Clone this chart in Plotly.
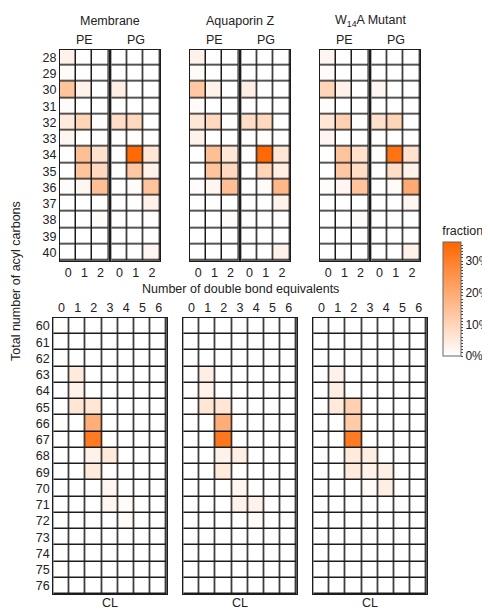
import plotly.graph_objects as go

# page body has an 8px margin, so the figure is drawn 8px in from the corner
OFF = 8
W, H = 490 - OFF, 611 - OFF

# ---------------- data (fraction, %) ----------------
pe_pg_carbons = list(range(28, 41))
pe_pg_db = [0, 1, 2]
cl_carbons = list(range(60, 77))
cl_db = [0, 1, 2, 3, 4, 5, 6]

group_names = ["Membrane", "Aquaporin Z", "W<sub>14</sub>A Mutant"]
class_names = ["PE", "PG"]

# rows: 28..40, cols: 0,1,2 double bonds
mem_pe = [[3, 0, 0], [1, 0, 0], [14, 3, 0], [1, 0, 0], [5, 10, 0.5], [2, 0, 0],
          [0, 15, 7], [0, 14, 9], [0.5, 2, 15], [0, 0, 0], [0, 0, 1], [0, 0, 0], [0, 0, 0]]
mem_pg = [[0, 0, 0], [0, 0, 0], [4, 0, 0], [0, 0, 0], [8, 9, 0], [0, 0.3, 0],
          [0.5, 35, 6], [0, 13, 3], [0, 1, 14], [0, 0, 3], [0, 0, 0], [0, 0, 0], [0, 0, 2]]
aqpz_pe = [[3, 0, 0], [1, 0, 0], [13, 3, 0], [1, 0, 0], [6, 9, 0.5], [3, 0, 0],
           [0, 15, 6], [0, 14, 9], [0.5, 2, 15], [0, 0, 0], [0, 0, 1], [0, 0, 0], [0, 0, 0]]
aqpz_pg = [[0, 0, 0], [0, 0, 0], [4, 0, 0], [0, 0, 0], [8, 9, 0], [0, 0.3, 0],
           [0.5, 35, 6], [0, 10, 4], [0, 1, 17], [0, 0, 3], [0, 0, 0], [0, 0, 0], [0, 0, 3]]
w14a_pe = [[2, 0, 0], [1, 0, 0], [10, 3, 0], [0.5, 0, 0], [6, 11, 0.5], [2, 0, 0],
           [0, 14, 7], [0, 13, 8], [0.5, 2, 14], [0, 0, 0], [0, 0, 1], [0, 0, 0], [0, 0, 0]]
w14a_pg = [[0, 0, 0], [0, 0, 0], [2, 0, 0], [0, 0, 0], [7, 10, 0], [0, 0, 0],
           [0.5, 33, 7], [0, 8, 3], [0, 1, 20], [0, 0, 2], [0, 0, 0], [0, 0, 0], [0, 0, 3]]

# rows: 60..76, cols: 0..6 double bonds
mem_cl = [[0]*7, [0]*7, [0]*7,
          [0, 5, 0, 0, 0, 0, 0], [0, 3, 0, 0, 0, 0, 0], [0, 6, 6, 0, 0, 0, 0],
          [0, 0, 19, 0, 0, 0, 0], [0, 0, 31, 0, 0, 0, 0], [0, 0, 3, 5, 0, 0, 0],
          [0, 0, 5, 0, 0, 0, 0], [0, 0, 0, 2, 0, 0, 0], [0, 0, 0, 2, 1, 0, 0],
          [0, 0, 0, 0, 1, 0, 0], [0]*7, [0]*7, [0]*7, [0]*7]
aqpz_cl = [[0]*7, [0]*7, [0]*7,
           [0, 4, 0, 0, 0, 0, 0], [0, 3, 0, 0, 0, 0, 0], [0, 6, 6, 0, 0, 0, 0],
           [0, 0, 19, 0, 0, 0, 0], [0, 0, 32, 0, 0, 0, 0], [0, 0, 3, 4, 0, 0, 0],
           [0, 0, 5, 0, 0, 0, 0], [0, 0, 0, 2, 0, 0, 0], [0, 0, 0, 3, 3, 0, 0],
           [0, 0, 0, 0, 1, 0, 0], [0]*7, [0]*7, [0]*7, [0]*7]
w14a_cl = [[0]*7, [0]*7, [0]*7,
           [0, 3, 0, 0, 0, 0, 0], [0, 4, 0, 0, 0, 0, 0], [0, 5, 11, 0, 0, 0, 0],
           [0, 0, 12, 0, 0, 0, 0], [0, 0, 31, 0, 0, 0, 0], [0, 0, 5, 4, 0, 0, 0],
           [0, 0, 5, 3, 4, 0, 0], [0, 0, 0, 1, 4, 0, 0], [0]*7,
           [0]*7, [0]*7, [0]*7, [0]*7, [0]*7]

colorbar_ticks = [0, 10, 20, 30]

# ---------------- layout helpers ----------------
FONT = "Liberation Sans, Arial, sans-serif"
FS = 12.5
GRID = "#1c1c1c"


def px(x):
    return (x - OFF) / W


def py(y):
    return 1 - (y - OFF) / H


def xd(a, b):
    return [px(a), px(b)]


def yd(top, bottom):
    return [py(bottom), py(top)]


top_y = yd(49.5, 260.7)
cl_y = yd(318, 594)
group_x0 = [60, 190, 320]
cl_x0 = [53.3, 183.3, 313.3]
pe_w = 48.7
pg_off = 51.3

top_data = [[mem_pe, mem_pg], [aqpz_pe, aqpz_pg], [w14a_pe, w14a_pg]]
cl_data = [mem_cl, aqpz_cl, w14a_cl]

fig = go.Figure()
layout = {}
annotations = []
idx = 0


def note(text, x, y, **kw):
    d = dict(text=text, x=px(x), y=py(y), xref="paper", yref="paper",
             showarrow=False, xanchor="center", yanchor="middle",
             font=dict(size=FS, color="#222"))
    d.update(kw)
    annotations.append(d)


def add_panel(z, xs, ys, xdom, ydom, show_y, xside):
    global idx
    idx += 1
    sfx = "" if idx == 1 else str(idx)
    fig.add_trace(go.Heatmap(
        z=z, x=xs, y=ys, coloraxis="coloraxis", xgap=1.5, ygap=1.5,
        xaxis="x" + sfx, yaxis="y" + sfx, hoverinfo="skip"))
    layout["xaxis" + sfx] = dict(
        domain=xdom, anchor="y" + sfx, range=[-0.5, len(xs) - 0.5],
        tickvals=xs, ticktext=[str(v) for v in xs], side=xside,
        showgrid=False, zeroline=False, showline=True, mirror=True,
        linecolor=GRID, linewidth=1.3, ticks="", fixedrange=True,
        tickfont=dict(size=FS, color="#222"))
    layout["yaxis" + sfx] = dict(
        domain=ydom, anchor="x" + sfx, range=[ys[-1] + 0.5, ys[0] - 0.5],
        tickvals=ys, ticktext=[str(v) for v in ys], showticklabels=show_y,
        showgrid=False, zeroline=False, showline=True, mirror=True,
        linecolor=GRID, linewidth=1.3, ticks="", fixedrange=True,
        tickfont=dict(size=FS, color="#222"))


for g in range(3):
    for c in range(2):
        x0 = group_x0[g] + c * pg_off
        add_panel(top_data[g][c], pe_pg_db, pe_pg_carbons, xd(x0, x0 + pe_w), top_y,
                  g == 0 and c == 0, "bottom")
        note(class_names[c], x0 + pe_w / 2, 40)
    note(group_names[g], group_x0[g] + 50, 21)

for g in range(3):
    x0 = cl_x0[g]
    add_panel(cl_data[g], cl_db, cl_carbons, xd(x0, x0 + 113.4), cl_y, g == 0, "top")
    note("CL", x0 + 56.7, 603)

note("Number of double bond equivalents", 240, 289)
note("Total number of acyl carbons", 16, 281, textangle=-90)

cb_tickvals = list(range(0, 36))
layout.update(dict(
    width=W, height=H,
    margin=dict(l=0, r=0, t=0, b=0),
    paper_bgcolor="white", plot_bgcolor=GRID,
    font=dict(family=FONT, size=FS, color="#222"),
    showlegend=False,
    annotations=annotations,
    coloraxis=dict(
        cmin=0, cmax=36,
        colorscale=[[0, "#ffffff"], [1, "#ff6600"]],
        colorbar=dict(
            title=dict(text="fraction", side="top", font=dict(size=FS)),
            thickness=18, thicknessmode="pixels",
            len=133, lenmode="pixels",
            x=px(442.7), xanchor="left", y=py(356), yanchor="bottom",
            tickvals=cb_tickvals,
            ticktext=[f"{v}%" if v in colorbar_ticks else "" for v in cb_tickvals],
            ticks="outside", ticklen=2, tickcolor="#444",
            outlinecolor="#666", outlinewidth=1, xpad=0, ypad=0,
            tickfont=dict(size=12)),
    ),
))
fig.update_layout(**layout)
fig.write_html("out.html")
